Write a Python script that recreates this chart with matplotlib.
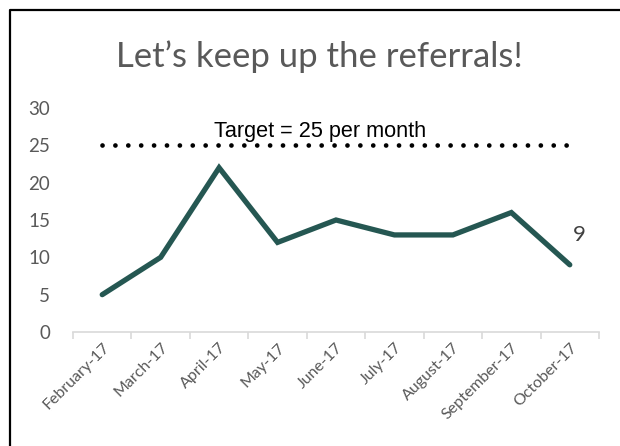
import matplotlib
matplotlib.use("Agg")
import matplotlib.pyplot as plt
from matplotlib.lines import Line2D
import numpy as np

# ----- data -----
months = ["February-17", "March-17", "April-17", "May-17", "June-17",
          "July-17", "August-17", "September-17", "October-17"]
referrals = [5, 10, 22, 12, 15, 13, 13, 16, 9]
target = [25] * len(months)
yticks = [0, 5, 10, 15, 20, 25, 30]

plt.rcParams["font.family"] = ["Lato", "DejaVu Sans"]

line_color = "#255752"
grey = "#595959"

fig = plt.figure(figsize=(6.2, 4.46), dpi=100)
ax = fig.add_axes([73 / 620, 1 - 332 / 446, 526 / 620, 224 / 446])

x = np.arange(len(months))
ax.plot(x, referrals, color=line_color, lw=3.8, solid_capstyle="round",
        solid_joinstyle="miter", zorder=3)
ax.plot(x, target, color="black", lw=3.4, linestyle=(0, (0.01, 2.72)),
        dash_capstyle="round", zorder=2)

# labels on the chart
ax.text(3.72, 26.1, "Target = 25 per month", family="Liberation Sans",
        fontsize=15.6, color="black", ha="center", va="baseline")
ax.text(8.17, referrals[-1] + 4.0, str(referrals[-1]), fontsize=16,
        color="#404040", ha="center", va="center")

# axes
ax.set_xlim(-0.5, len(months) - 0.5)
ax.set_ylim(0, 30)
ax.set_yticks(yticks)
ax.set_xticks(x)
ax.set_xticklabels(months, rotation=45, ha="right", rotation_mode="anchor")
ax.set_xticks(np.arange(-0.5, len(months)), minor=True)

for s in ["top", "right", "left"]:
    ax.spines[s].set_visible(False)
ax.spines["bottom"].set_color("#D9D9D9")
ax.spines["bottom"].set_linewidth(1.2)

ax.tick_params(axis="y", length=0, pad=16.5, labelsize=13.5, labelcolor=grey)
ax.tick_params(axis="x", which="major", length=0, pad=6, labelsize=11.5,
               labelcolor=grey)
ax.tick_params(axis="x", which="minor", length=5, width=1.2, color="#D9D9D9")

fig.text(0.515, 1 - 57 / 446, "Let\u2019s keep up the referrals!", fontsize=25,
         color=grey, ha="center", va="center")

# outer frame (left and top edge visible)
fx = 10 / 620
fy = 1 - 10 / 446
fig.add_artist(Line2D([fx, fx, 1.01], [-0.01, fy, fy], color="black", lw=1.6,
                      transform=fig.transFigure))

fig.savefig("out.png", dpi=100)
